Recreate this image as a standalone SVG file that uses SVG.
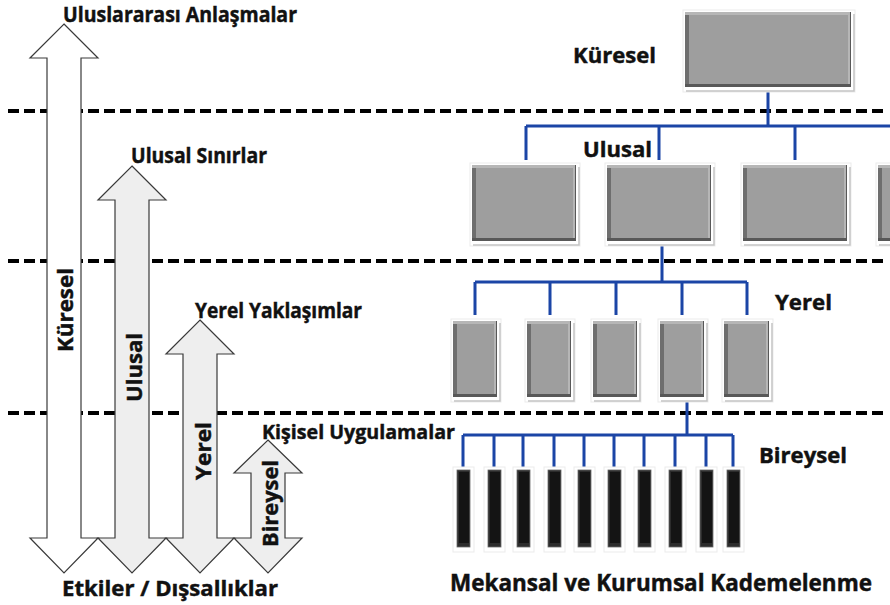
<svg xmlns="http://www.w3.org/2000/svg" width="890" height="605" viewBox="0 0 890 605">
  <style>
    .lbl { font-family: "Open Sans", "Liberation Sans", sans-serif; font-weight: bold; fill: #111; stroke: #111; stroke-width: 0.45; }
    .dash { stroke: #000; stroke-width: 4; stroke-dasharray: 11 5; fill: none; }
    .arrow { stroke: #3a3a3a; stroke-width: 1.2; stroke-linejoin: miter; }
    .white { fill: #ffffff; }
    .pale { fill: #eeeeee; }
    .link { stroke: #1b45a6; stroke-width: 3; fill: none; }
    .halo { fill: #ffffff; stroke: #ebebeb; stroke-width: 1; }
    .shade { fill: none; stroke: #c4c4c4; stroke-width: 1.5; }
    .edgeB { fill: #585858; }
    .edgeT { fill: #b6b6b6; }
    .edgeL { fill: #6e6e6e; }
    .face { fill: #9e9e9e; }
    .barBody { fill: #2c2c2c; stroke: #6a6a6a; stroke-width: 0.8; }
    .barFace { fill: #141414; }
  </style>

  <!-- level separators -->
  <g id="separators">
    <line class="dash" x1="8" y1="111" x2="884" y2="111"/>
    <line class="dash" x1="8" y1="261" x2="884" y2="261"/>
    <line class="dash" x1="8" y1="413" x2="884" y2="413"/>
  </g>

  <!-- double-headed scale arrows -->
  <g id="arrow-kuresel">
    <polygon class="arrow white" points="64,24 98,58 81,58 81,538 98,538 64,573 30,538 47,538 47,58 30,58"/>
    <text class="lbl" font-size="21.5" transform="translate(73,352) rotate(-90)" textLength="84" lengthAdjust="spacingAndGlyphs">Küresel</text>
  </g>
  <g id="arrow-ulusal">
    <polygon class="arrow pale" points="132,166 166,200 149,200 149,538 166,538 132,573 98,538 115,538 115,200 98,200"/>
    <text class="lbl" font-size="21.5" transform="translate(142,402) rotate(-90)" textLength="69" lengthAdjust="spacingAndGlyphs">Ulusal</text>
  </g>
  <g id="arrow-yerel">
    <polygon class="arrow pale" points="200,320 234,354 217,354 217,538 234,538 200,573 166,538 183,538 183,354 166,354"/>
    <text class="lbl" font-size="21.5" transform="translate(211,480) rotate(-90)" textLength="58" lengthAdjust="spacingAndGlyphs">Yerel</text>
  </g>
  <g id="arrow-bireysel">
    <polygon class="arrow pale" points="268,440 302,473 285,473 285,538 302,538 268,573 234,538 251,538 251,473 234,473"/>
    <text class="lbl" font-size="21.5" transform="translate(278,547) rotate(-90)" textLength="87" lengthAdjust="spacingAndGlyphs">Bireysel</text>
  </g>

  <!-- arrow captions -->
  <g id="captions-left">
    <text class="lbl" x="63" y="22" font-size="20.5" textLength="234" lengthAdjust="spacingAndGlyphs">Uluslararası Anlaşmalar</text>
    <text class="lbl" x="131" y="163" font-size="20.5" textLength="136" lengthAdjust="spacingAndGlyphs">Ulusal Sınırlar</text>
    <text class="lbl" x="195" y="318" font-size="20.5" textLength="167" lengthAdjust="spacingAndGlyphs">Yerel Yaklaşımlar</text>
    <text class="lbl" x="262" y="439" font-size="19.5" textLength="193" lengthAdjust="spacingAndGlyphs">Kişisel Uygulamalar</text>
    <text class="lbl" x="62" y="596" font-size="22" textLength="216" lengthAdjust="spacingAndGlyphs">Etkiler / Dışsallıklar</text>
  </g>

  <!-- hierarchy connectors -->
  <g id="connectors">
    <path class="link" d="M768 87 V126 M526 126 H890 M526 126 V160 M659 126 V160 M795 126 V160"/>
    <path class="link" d="M662 241 V282 M475 282 H747 M475 282 V315 M550 282 V315 M616 282 V315 M682 282 V315 M747 282 V315"/>
    <path class="link" d="M687 397 V435 M463 435 H733 M463 435 V467 M494 435 V467 M523 435 V467 M554 435 V467 M584 435 V467 M614 435 V467 M644 435 V467 M675 435 V467 M706 435 V467 M733 435 V467"/>
  </g>

  <!-- global node -->
  <g id="node-global">
    <rect class="halo" x="683" y="10" width="172" height="82"/>
    <path class="shade" d="M686 91 H854 V14"/>
    <rect class="edgeB" x="685" y="12" width="166" height="75"/>
    <rect class="edgeT" x="685" y="12" width="165" height="72"/>
    <rect class="edgeL" x="685" y="15" width="4" height="69"/>
    <rect class="face" x="689" y="15" width="159" height="69"/>
  </g>

  <!-- national nodes -->
  <g id="node-national-1">
    <rect class="halo" x="470" y="163" width="110" height="83"/>
    <path class="shade" d="M473 245 H579 V167"/>
    <rect class="edgeB" x="472" y="165" width="104" height="76"/>
    <rect class="edgeT" x="472" y="165" width="103" height="73"/>
    <rect class="edgeL" x="472" y="168" width="4" height="70"/>
    <rect class="face" x="476" y="168" width="97" height="70"/>
  </g>
  <g id="node-national-2">
    <rect class="halo" x="605" y="163" width="110" height="83"/>
    <path class="shade" d="M608 245 H714 V167"/>
    <rect class="edgeB" x="607" y="165" width="104" height="76"/>
    <rect class="edgeT" x="607" y="165" width="103" height="73"/>
    <rect class="edgeL" x="607" y="168" width="4" height="70"/>
    <rect class="face" x="611" y="168" width="97" height="70"/>
  </g>
  <g id="node-national-3">
    <rect class="halo" x="741" y="163" width="110" height="83"/>
    <path class="shade" d="M744 245 H850 V167"/>
    <rect class="edgeB" x="743" y="165" width="104" height="76"/>
    <rect class="edgeT" x="743" y="165" width="103" height="73"/>
    <rect class="edgeL" x="743" y="168" width="4" height="70"/>
    <rect class="face" x="747" y="168" width="97" height="70"/>
  </g>
  <g id="node-national-4">
    <rect class="halo" x="876" y="163" width="110" height="83"/>
    <path class="shade" d="M879 245 H985"/>
    <rect class="edgeB" x="878" y="165" width="104" height="76"/>
    <rect class="edgeT" x="878" y="165" width="103" height="73"/>
    <rect class="edgeL" x="878" y="168" width="4" height="70"/>
    <rect class="face" x="882" y="168" width="97" height="70"/>
  </g>

  <!-- local nodes -->
  <g id="node-local-1">
    <rect class="halo" x="451" y="319" width="50" height="83"/>
    <path class="shade" d="M454 401 H500 V323"/>
    <rect class="edgeB" x="453" y="321" width="44" height="76"/>
    <rect class="edgeT" x="453" y="321" width="43" height="73"/>
    <rect class="edgeL" x="453" y="324" width="4" height="70"/>
    <rect class="face" x="457" y="324" width="37" height="70"/>
  </g>
  <g id="node-local-2">
    <rect class="halo" x="525" y="319" width="50" height="83"/>
    <path class="shade" d="M528 401 H574 V323"/>
    <rect class="edgeB" x="527" y="321" width="44" height="76"/>
    <rect class="edgeT" x="527" y="321" width="43" height="73"/>
    <rect class="edgeL" x="527" y="324" width="4" height="70"/>
    <rect class="face" x="531" y="324" width="37" height="70"/>
  </g>
  <g id="node-local-3">
    <rect class="halo" x="591" y="319" width="50" height="83"/>
    <path class="shade" d="M594 401 H640 V323"/>
    <rect class="edgeB" x="593" y="321" width="44" height="76"/>
    <rect class="edgeT" x="593" y="321" width="43" height="73"/>
    <rect class="edgeL" x="593" y="324" width="4" height="70"/>
    <rect class="face" x="597" y="324" width="37" height="70"/>
  </g>
  <g id="node-local-4">
    <rect class="halo" x="658" y="319" width="50" height="83"/>
    <path class="shade" d="M661 401 H707 V323"/>
    <rect class="edgeB" x="660" y="321" width="44" height="76"/>
    <rect class="edgeT" x="660" y="321" width="43" height="73"/>
    <rect class="edgeL" x="660" y="324" width="4" height="70"/>
    <rect class="face" x="664" y="324" width="37" height="70"/>
  </g>
  <g id="node-local-5">
    <rect class="halo" x="722" y="319" width="51" height="83"/>
    <path class="shade" d="M725 401 H772 V323"/>
    <rect class="edgeB" x="724" y="321" width="45" height="76"/>
    <rect class="edgeT" x="724" y="321" width="44" height="73"/>
    <rect class="edgeL" x="724" y="324" width="4" height="70"/>
    <rect class="face" x="728" y="324" width="38" height="70"/>
  </g>

  <!-- individual nodes -->
  <g id="node-individual-1"><rect class="halo" x="453" y="467" width="21" height="85"/><rect class="barBody" x="457" y="470" width="13" height="77"/><rect class="barFace" x="459" y="472" width="10" height="71"/></g>
  <g id="node-individual-2"><rect class="halo" x="484" y="467" width="21" height="85"/><rect class="barBody" x="488" y="470" width="13" height="77"/><rect class="barFace" x="490" y="472" width="10" height="71"/></g>
  <g id="node-individual-3"><rect class="halo" x="513" y="467" width="21" height="85"/><rect class="barBody" x="517" y="470" width="13" height="77"/><rect class="barFace" x="519" y="472" width="10" height="71"/></g>
  <g id="node-individual-4"><rect class="halo" x="544" y="467" width="21" height="85"/><rect class="barBody" x="548" y="470" width="13" height="77"/><rect class="barFace" x="550" y="472" width="10" height="71"/></g>
  <g id="node-individual-5"><rect class="halo" x="574" y="467" width="21" height="85"/><rect class="barBody" x="578" y="470" width="13" height="77"/><rect class="barFace" x="580" y="472" width="10" height="71"/></g>
  <g id="node-individual-6"><rect class="halo" x="604" y="467" width="21" height="85"/><rect class="barBody" x="608" y="470" width="13" height="77"/><rect class="barFace" x="610" y="472" width="10" height="71"/></g>
  <g id="node-individual-7"><rect class="halo" x="634" y="467" width="21" height="85"/><rect class="barBody" x="638" y="470" width="13" height="77"/><rect class="barFace" x="640" y="472" width="10" height="71"/></g>
  <g id="node-individual-8"><rect class="halo" x="665" y="467" width="21" height="85"/><rect class="barBody" x="669" y="470" width="13" height="77"/><rect class="barFace" x="671" y="472" width="10" height="71"/></g>
  <g id="node-individual-9"><rect class="halo" x="696" y="467" width="21" height="85"/><rect class="barBody" x="700" y="470" width="13" height="77"/><rect class="barFace" x="702" y="472" width="10" height="71"/></g>
  <g id="node-individual-10"><rect class="halo" x="723" y="467" width="21" height="85"/><rect class="barBody" x="727" y="470" width="13" height="77"/><rect class="barFace" x="729" y="472" width="10" height="71"/></g>

  <!-- level names -->
  <g id="captions-right">
    <text class="lbl" x="573" y="63" font-size="22" textLength="83" lengthAdjust="spacingAndGlyphs">Küresel</text>
    <text class="lbl" x="583" y="157" font-size="22" textLength="69" lengthAdjust="spacingAndGlyphs">Ulusal</text>
    <text class="lbl" x="775" y="310" font-size="22" textLength="57" lengthAdjust="spacingAndGlyphs">Yerel</text>
    <text class="lbl" x="759" y="463" font-size="22" textLength="88" lengthAdjust="spacingAndGlyphs">Bireysel</text>
    <text class="lbl" x="450" y="591" font-size="22.5" textLength="422" lengthAdjust="spacingAndGlyphs">Mekansal ve Kurumsal Kademelenme</text>
  </g>
</svg>
